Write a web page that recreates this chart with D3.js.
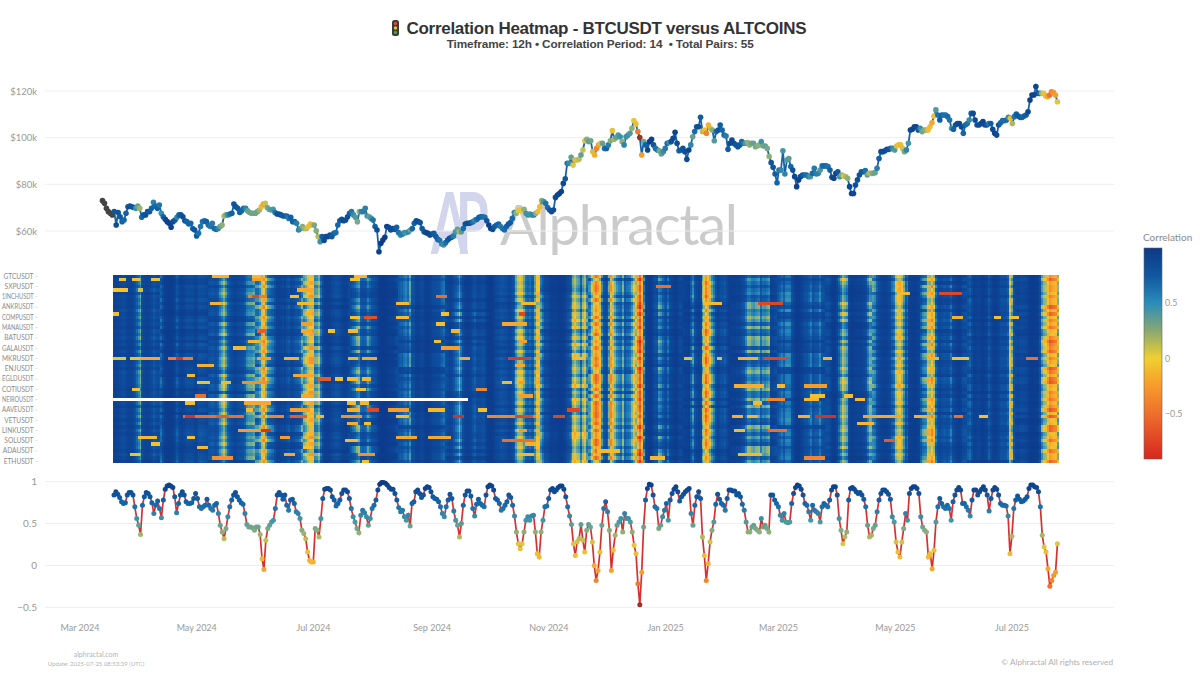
<!DOCTYPE html>
<html><head><meta charset="utf-8">
<script src="https://cdn.jsdelivr.net/npm/d3@7"></script>
<style>html,body{margin:0;background:#fff}svg{display:block}text{font-family:Lato,"Noto Sans",sans-serif}</style>
</head><body><div id="c"></div>
<script>
const titleText = "Correlation Heatmap - BTCUSDT versus ALTCOINS";
const subtitleText = "Timeframe: 12h • Correlation Period: 14  • Total Pairs: 55";
const pairLabels = ["GTCUSDT","SXPUSDT","1INCHUSDT","ANKRUSDT","COMPUSDT","MANAUSDT","BATUSDT","GALAUSDT","MKRUSDT","ENJUSDT","EGLDUSDT","COTIUSDT","NEIROUSDT","AAVEUSDT","VETUSDT","LINKUSDT","SOLUSDT","ADAUSDT","ETHUSDT"];
const pairCount = 55;
const monthTicks = ["2024-03-01","2024-05-01","2024-07-01","2024-09-01","2024-11-01","2025-01-01","2025-03-01","2025-05-01","2025-07-01"];
const priceTicks = [60,80,100,120];
const corrTicks = [1,0.5,0,-0.5];
const barTicks = [0.5,0,-0.5];
const priceStart = "2024-03-12T18:00Z", corrStart = "2024-03-18T18:00Z", seriesEnd = "2025-07-24T18:00Z";
// BTC price in $k
const btcPrice = [73,71.9,69.7,68.3,67.6,66.9,68.3,62.6,67.9,66.1,64,64.7,67.6,70.4,70.7,70.4,70.1,69.7,70.7,69.7,65.9,66.9,66.9,68.3,68.3,69.7,72.3,70.7,69.7,71.1,67.6,66.1,65,64,63.3,61.6,64,64.7,65.9,66.9,66.9,66.1,64.4,64,63,63.3,61.1,60.4,57.9,59,61.9,64,64.4,64,62.6,61.9,63.3,61.1,60.7,61.1,61.9,62.6,66.4,66.9,66.9,67.3,67.6,71.6,70.4,69.7,67.9,68.7,69.7,69.7,68.7,67.9,67.6,67.6,67.6,68.3,69,70.4,71.6,71.9,70.1,69.3,69,69.3,67.9,67.3,67.3,66.9,66.4,66.4,66.4,65.4,65.9,64,64,63.3,60.4,61.1,61.9,61.1,61.1,61.9,63,62.6,62.6,60.1,57.6,55.4,57.6,55.9,57.6,57.6,58.3,57.6,59,59.3,62.6,64.4,65,64.4,64.7,66.1,67.6,68.3,66.9,65.9,64,68.3,68.3,68.3,69.7,66.4,66.1,65.4,64.7,61.9,60.4,51.1,54.7,56.1,57.3,61.9,61.6,60.4,61.1,60.7,61.6,59.3,58.3,58.7,59.3,59.3,59.7,60.4,61.1,63.3,64.4,64,
63.6,61.1,59.7,59.3,59,58.3,58.7,59,57.6,56.4,55.9,54.4,54,55,56.1,56.9,57.3,57.9,59.7,60.7,59.7,59.7,61.1,63,63.3,63.3,63.6,64,64.7,65,65.9,66.1,66.1,65.9,64.4,62.6,61.1,60.7,61.9,62.6,63,61.9,61.1,60.4,61.9,63,63.6,65.4,67.9,67.6,68.7,69,69,69.3,67.6,66.9,67.3,66.9,66.9,67.6,68.3,70.4,73,72.6,71.9,70.1,69,68.3,69,74.4,75.4,76.1,76.9,80.4,82.4,89,89,91.6,88.3,90.4,90.4,90.7,92.6,94.7,98.7,99.3,98.3,98.7,94,92.6,95.4,96.9,97.6,97.6,95.4,95.4,96.9,98.7,103,99.3,100.1,101.1,100.4,98.3,96.9,100.4,101.1,101.9,104,107.3,105.9,102.6,100.1,92.6,98.3,96.9,94.7,98.3,99.3,96.9,95.4,94.7,94.4,93,94,95.4,97.6,97.9,98.3,99.7,102.3,97.6,94.4,94.7,95.4,94,90.7,94.7,96.9,100.4,102.6,104.7,104.7,108.7,102.6,103.3,101.9,105.4,104,103.3,98.7,102.6,103.3,105.4,103.3,101.1,100.7,95,97.6,99,97.6,96.9,96.1,96.9,98.3,97.6,97.6,97.9,96.9,97.6,97.6,96.1,96.4,
96.9,98.3,96.4,96.4,95.4,91.9,89.3,87.3,84.4,80.7,86.1,86.1,94.4,84.4,90.4,91.1,87.6,86.1,83.3,79,81.9,83.3,84,84,84,83.3,83.3,84.7,86.9,84.4,84.7,86.1,87.9,87.9,87.9,87.6,86.1,83,82.6,84.7,85.4,83.3,84,83.6,83.3,82.6,79,76.1,76.1,79.7,81.9,84,85.4,85.4,85.9,84,84.7,84.7,84.7,85,86.9,91.1,94,94,94.4,95,95,95.4,95.4,94.7,96.4,96.9,96.9,95.4,94,94.7,97.6,103.3,103.6,104.7,104.7,103.3,104,102.6,103.3,103.3,103.3,104.7,106.4,109.3,111.9,109.7,107.6,109.7,109.7,109.7,109,107.6,104,103.6,105.4,106.1,106.1,104.7,101.9,105.4,106.1,107.6,110.4,110.4,107.6,105.4,105.4,106.1,106.9,105.4,105.4,106.1,106.1,103.6,101.9,101.1,105.4,106.4,107.3,107.3,107.6,108.7,108.3,106.1,109,110.1,109.3,108.7,108.7,109.3,109.7,111.1,116.1,118.3,118.3,121.9,119,119,119,119,117.9,117.6,118.3,119.7,119.3,118.3,115.4];
// mean correlation
const meanCorr = [.84,.88,.85,.81,.76,.74,.75,.84,.87,.87,.84,.70,.56,.48,.37,.72,.82,.87,.86,.82,.75,.62,.72,.77,.68,.57,.78,.91,.95,.96,.95,.93,.82,.63,.74,.84,.88,.84,.76,.74,.74,.75,.80,.86,.80,.70,.68,.70,.72,.79,
.72,.68,.66,.72,.74,.62,.48,.40,.32,.44,.58,.70,.78,.84,.87,.82,.78,.75,.73,.62,.49,.46,.46,.45,.42,.46,.46,.37,.08,-.05,.30,.44,.48,.52,.54,.68,.84,.87,.84,.79,.84,.72,.66,.78,.79,.74,.64,.62,.56,.42,.38,.32,.16,.06,.04,.04,.44,.42,.34,.56,.80,.91,.92,.92,.90,.82,.78,.71,.74,.78,.86,.90,.90,.88,.80,.68,.58,.52,.44,.39,.60,.66,.63,.58,.48,.56,.68,.72,.78,.90,.97,.99,.99,.98,.96,.93,.91,.91,.86,.78,.69,.64,.66,.58,.54,.60,.47,.74,.76,.88,.90,.86,.81,.84,.92,
.94,.93,.88,.82,.80,.79,.76,.70,.62,.58,.70,.78,.85,.80,.65,.54,.48,.34,.50,.72,.84,.89,.89,.83,.68,.59,.73,.79,.74,.72,.70,.84,.94,.96,.95,.90,.80,.78,.74,.66,.68,.72,.76,.84,.81,.72,.59,.40,.26,.20,.26,.40,.54,.58,.54,.59,.60,.40,.14,.10,.40,.54,.70,.71,.80,.90,.92,.88,.90,.93,.95,.95,.91,.82,.70,.59,.49,.26,.12,.28,.32,.49,.30,.16,.42,.49,.46,.28,0,-.18,-.06,.16,.48,.68,.76,.64,.42,-.06,.18,.36,.48,.52,.56,.40,.62,.56,.56,.52,.40,.24,.14,-.22,-.47,-.08,.46,.78,.92,.97,.96,.84,.70,.68,.44,.48,.58,.66,.74,.54,.78,.86,.91,.94,.88,.77,.82,.85,.88,.90,.92,.62,.48,.72,.82,.88,.80,.34,.12,-.18,.02,.28,.42,.52,.73,.85,.79,.74,.72,.66,.80,.90,.90,.89,.89,.84,.86,.82,.73,.66,.52,.40,.40,.46,.48,.44,.42,.40,.56,
.46,.48,.44,.40,.84,.84,.78,.74,.70,.60,.54,.62,.52,.51,.52,.74,.86,.93,.96,.95,.91,.84,.74,.72,.64,.54,.72,.66,.64,.62,.52,.70,.74,.72,.70,.78,.90,.94,.94,.84,.56,.42,.26,.34,.40,.78,.92,.93,.91,.88,.86,.87,.84,.79,.70,.48,.34,.36,.44,.48,.64,.78,.86,.90,.90,.88,.85,.79,.58,.52,.28,.16,.10,.28,.44,.62,.54,.86,.92,.94,.94,.92,.86,.58,.46,.42,.40,.10,.14,-.04,.18,.52,.70,.80,.74,.70,.68,.72,.68,.54,.76,.84,.90,.93,.90,.74,.74,.70,.66,.59,.78,.90,.90,.84,.88,.91,.94,.90,.84,.65,.80,.90,.93,.91,.84,.74,.72,.72,.71,.59,.14,.35,.68,.78,.83,.79,.76,.77,.79,.82,.92,.96,.96,.94,.93,.88,.70,.36,.22,.16,-.04,-.25,-.18,-.12,-.08,.26];
// how far each pair sits from the mean, one digit per 25 days (5 = at the mean, low = weaker)
const pairBias = [
"62574615372658463725","36625147368254716362","47362518463726541846","63725416372548362175","25463716482536471635","74263815264735186247","36471825637418263574","52637418362547163826",
"46173625847362514736","63518274635182746351","27463518274635172846","58362741536284715362","34725168342751863427","61847352618473526184","45263718452637184526","72635148726351487263",
"38471625384716253847","56182734561827345618","23746158237461582374","67415283674152836741","41638257416382574163","75241863752418637524","38526174385261743852","62473815624738156247",
"13241523142315241324","57361824573618245736","36284715362847153628","64517382645173826451","25736184257361842573","48162537481625374816","32415263241526324152","31526143152614315261",
"43152634315263431526","68274153682741536827","35841627358416273584","47152638471526384715","52637184526371845263","34162735341627353416","76248153762481537624","33425163342516334251",
"58173624581736245817","22314132231413223141","65382714653827146538","36174825361748253617","74526183745261837452","32516243251624325162","61483725614837256148","33241635324163532416",
"32415362341536234153","45172836451728364517","37584162375841623758","66238147662381476623","24351623435162343516","53164728531647285316","71826354718263547182"];
const biasDays = 25;
// pair/day runs that stand out: [pair, first day, last day, correlation]
const hotRuns = [[0,52,60,.02],[0,73,77,.05],[1,3,6,.15],[1,10,13,.15],[1,20,24,.15],[1,73,77,-.1],[0,127,133,.05],[1,125,129,.1],[4,0,7,.12],[4,13,15,.2],[4,97,105,-.05],[6,71,80,-.25],[6,73,76,-.5],[6,93,97,.1],[6,170,175,-.3],[8,51,56,.02],[8,97,105,.05],[8,149,155,.05],[8,215,222,.05],[11,0,2,.1],[11,101,104,0],[11,214,216,-.5],[11,173,176,.1],[12,132,138,-.45],[12,149,155,.05],[12,125,129,.1],[14,170,174,.1],[14,205,217,-.05],[14,99,104,-.1],[16,113,116,.1],[16,124,128,.05],[16,178,182,.05],[16,76,79,-.4],[16,99,104,-.05],[19,71,76,.05],[19,214,217,-.1],[19,169,172,.1],[21,63,69,.05],[21,173,182,-.1],[24,0,6,.15],[24,9,13,.1],[24,14,24,-.05],[24,29,41,-.25],[24,33,36,-.6],[24,90,97,0],[24,124,128,0],[24,131,138,-.05],[24,76,82,-.1],[24,182,187,-.05],[24,208,218,-.55],[24,242,247,.05],[26,44,52,0],[26,212,216,-.05],[29,39,42,.05],[29,95,104,-.05],[30,108,114,-.4],[30,117,120,.1],[30,123,128,.05],[30,131,135,.02],[31,44,50,.1],[31,57,61,.05],[31,68,80,-.15],[31,205,209,.05],[31,214,216,-.1],[33,10,13,.1],[33,128,132,.1],[33,191,196,-.2],[35,43,48,-.3],[35,99,102,-.05],[35,214,220,-.1],[37,38,42,.1],[37,69,82,-.05],[37,123,127,.05],[37,130,134,.05],[39,70,73,.05],[39,93,103,-.1],[39,123,129,0],[39,134,139,-.5],[39,145,155,-.1],[39,166,174,.05],[39,192,196,.1],[39,239,245,-.5],[41,37,68,-.3],[41,38,42,-.6],[41,54,60,-.4],[41,82,89,-.2],[41,93,101,-.4],[41,107,110,.05],[41,120,130,-.15],[41,149,155,.05],[41,179,184,-.6],[41,197,222,-.2],[41,212,220,-.5],[41,232,237,-.5],[43,123,128,0],[43,132,135,.1],[45,66,81,-.1],[45,78,82,-.6],[45,214,217,-.1],[47,13,22,.05],[47,39,42,.1],[47,88,92,-.1],[47,149,159,-.05],[47,166,177,-.05],[48,205,221,-.3],[48,122,128,.05],[49,20,24,.1],[49,217,222,0],[50,44,49,.05],[50,100,104,.1],[52,9,13,.15],[52,90,95,-.05],[52,129,137,-.15],[52,213,221,.05],[53,52,62,-.15],[54,131,134,.1],
[3,286,293,-.3],[5,435,446,-.5],[5,413,419,.05],[8,340,352,-.5],[8,311,320,.05],[24,301,304,.05],[24,318,320,.05],[24,329,339,0],[24,343,354,-.5],[24,374,378,0],[24,429,434,0],[24,442,450,.1],[24,481,486,-.3],[12,442,447,0],[12,472,476,.1],[12,464,467,.1],[32,327,342,0],[32,364,375,-.1],[32,350,353,.05],[35,367,374,.1],[35,385,389,.1],[36,345,353,-.2],[36,364,371,.05],[36,391,395,.05],[37,337,341,.05],[41,326,331,0],[41,334,339,.05],[41,361,366,0],[41,370,380,-.6],[41,395,414,-.05],[41,422,428,0],[41,443,447,-.3],[41,456,460,.1],[43,392,400,.05],[45,345,354,-.3],[45,327,332,.05],[48,406,411,-.4],[51,255,266,.05],[52,329,341,.05],[53,364,374,-.2],[53,283,290,.05]];
const neiroRow = 36, neiroMissingDays = 187;
const barStops = [-0.91,-0.5,-0.25,0,0.25,0.5,0.75,1];
const barColors = ["#d7261f","#ee6f2c","#f79a2b","#f0d030","#8aa870","#2a8dbb","#10579f","#0d3a85"];
const markStops = [-0.5,-0.25,-0.1,0.05,0.25,0.4,0.55,0.75,1];
const markColors = ["#8e2a22","#f2702a","#f59a30","#f5b530","#e3c83c","#8db07a","#3f93a8","#1164a8","#0d3a85"];
const heatStops = [-0.7,-0.4,-0.15,0.05,0.3,0.5,0.72,1];
const heatColors = ["#d5301f","#ec6a2a","#f7a52c","#f6c52c","#7fb28a","#2388bc","#0f56a5","#0c3a8c"];

const W=1200,H=675;
const svg=d3.select("#c").append("svg").attr("width",W).attr("height",H);
const barColor=d3.scaleLinear().domain(barStops).range(barColors).clamp(true);
const markColor=d3.scaleLinear().domain(markStops).range(markColors).clamp(true);
const heatColor=d3.scaleLinear().domain(heatStops).range(heatColors).clamp(true);
const parse=d3.utcParse("%Y-%m-%d");
const x=d3.scaleUtc().domain([parse(monthTicks[0]),parse(monthTicks[8])]).range([80,1012]);
const yP=d3.scaleLinear().domain([60,120]).range([231,91]);
const yC=d3.scaleLinear().domain([1,-0.5]).range([481.7,607.3]);
const yH=d3.scaleBand().domain(d3.range(pairCount)).range([274.5,463]);
const gridL=45,gridR=1114,gridC="#eeeeee",tickC="#999999";
const series=(arr,a,b)=>{const t0=+new Date(a),t1=+new Date(b);return arr.map((v,i)=>({d:new Date(t0+(t1-t0)*i/(arr.length-1)),v}));};
const corr=series(meanCorr,corrStart,seriesEnd), price=series(btcPrice,priceStart,seriesEnd);
const bis=d3.bisector(d=>d.d).center;
const corrAt=d=>d<corr[0].d?null:corr[bis(corr,d)].v;

// watermark
const wm=svg.append("g").style("font-family","Liberation Sans");
wm.append("text").attr("transform","translate(431,254) scale(.62,1)").attr("font-size",86).attr("font-weight",700).attr("fill","#d2d5ec").attr("letter-spacing",-20).text("AP");
wm.append("text").attr("x",500).attr("y",245).attr("font-size",56).attr("fill","#cbcbcb").attr("textLength",238).text("Alphractal");

// title
const traffic=svg.append("g");
traffic.append("rect").attr("x",392).attr("y",20).attr("width",7).attr("height",16).attr("rx",2.5).attr("fill","#3a3a3a");
["#e0492f","#e9c12f","#4ea24c"].forEach((c,i)=>traffic.append("circle").attr("cx",395.5).attr("cy",23.5+i*4.5).attr("r",1.7).attr("fill",c));
svg.append("text").attr("x",406.5).attr("y",34).attr("font-size",17).attr("font-weight",700).attr("fill","#333").style("font-family","Liberation Sans").attr("textLength",400).text(titleText);
svg.append("text").attr("x",446.7).attr("y",48).attr("font-size",11.8).attr("font-weight",700).attr("fill","#444").style("font-family","Liberation Sans").attr("textLength",307).style("white-space","pre").text(subtitleText);

// price axis
const gP=svg.append("g").call(d3.axisLeft(yP).tickValues(priceTicks).tickSize(0).tickFormat(d=>"$"+d+"k")).attr("transform","translate(43,0)");
gP.select(".domain").remove();gP.selectAll("text").attr("fill",tickC).attr("font-size",9.5).attr("dx",-3).style("font-family","Lato");
svg.append("g").selectAll("line").data(priceTicks).join("line").attr("x1",gridL).attr("x2",gridR).attr("y1",yP).attr("y2",yP).attr("stroke",gridC);
// price line + markers
svg.append("path").datum(price).attr("fill","none").attr("stroke","#1464aa").attr("stroke-width",1.8).attr("d",d3.line().x(d=>x(d.d)).y(d=>yP(d.v)));
svg.append("g").selectAll("circle").data(price).join("circle").attr("cx",d=>x(d.d)).attr("cy",d=>yP(d.v)).attr("r",2.8).attr("fill",d=>{const c=corrAt(d.d);return c===null?"#444444":markColor(c);});

// heatmap
const cells=[];
const lookup=new Map();
hotRuns.forEach(([r,a,b,v])=>{for(let c=a;c<=b;c++)lookup.set(r+"_"+c,v-.08);});
const dayW=x(corr[1].d)-x(corr[0].d);
for(let r=0;r<pairCount;r++)for(let c=0;c<corr.length;c++){
  if(r===neiroRow&&c<neiroMissingDays)continue;
  const k=r+"_"+c, m=corr[c].v;
  const base=m+.4*(1-m)*Math.max(0,Math.min(1,(m-.3)/.3));      // most pairs sit above the mean
  const dev=(+pairBias[r][Math.floor(c/biasDays)]-5)/7;
  cells.push({r,c,v:lookup.has(k)?lookup.get(k):base+dev*Math.min(1-base,.45)});
}
svg.append("g").attr("shape-rendering","crispEdges").selectAll("rect").data(cells).join("rect")
 .attr("x",d=>x(corr[d.c].d)-dayW/2).attr("y",d=>yH(d.r)).attr("width",dayW+.6).attr("height",yH.bandwidth()+.3).attr("fill",d=>heatColor(d.v));
const rowsL=pairLabels.map((n,i)=>({n,r:i*3}));
const gH=svg.append("g");
gH.selectAll("text").data(rowsL).join("text").attr("x",33.5).attr("y",d=>yH(d.r)+yH.bandwidth()/2+2.4).attr("text-anchor","end").attr("font-size",6.6).attr("fill","#8a8a8a").text(d=>d.n)
 .each(function(){ if(this.getComputedTextLength()>31.5) d3.select(this).attr("textLength",31.5).attr("lengthAdjust","spacingAndGlyphs"); });
gH.selectAll("line").data(rowsL).join("line").attr("x1",35).attr("x2",38).attr("y1",d=>yH(d.r)+yH.bandwidth()/2).attr("y2",d=>yH(d.r)+yH.bandwidth()/2).attr("stroke","#e8e8e8");

// correlation panel
svg.append("g").selectAll("line").data(corrTicks).join("line").attr("x1",gridL).attr("x2",gridR).attr("y1",yC).attr("y2",yC).attr("stroke",gridC);
const gC=svg.append("g").attr("transform","translate(43,0)").call(d3.axisLeft(yC).tickValues(corrTicks).tickSize(0).tickFormat(d=>d===0.5?"0.5":d===-0.5?"−0.5":d));
gC.select(".domain").remove();gC.selectAll("text").attr("fill",tickC).attr("font-size",10).attr("dx",-3).style("font-family","Lato");
svg.append("path").datum(corr).attr("fill","none").attr("stroke","#d7302f").attr("stroke-width",1.7).attr("d",d3.line().x(d=>x(d.d)).y(d=>yC(d.v)));
svg.append("g").selectAll("circle").data(corr).join("circle").attr("cx",d=>x(d.d)).attr("cy",d=>yC(d.v)).attr("r",2.5).attr("fill",d=>markColor(d.v));

// x axis
svg.append("g").selectAll("text").data(monthTicks).join("text").attr("x",d=>x(parse(d))).attr("y",631).attr("text-anchor","middle").attr("font-size",9).attr("fill",tickC).text(d=>d3.utcFormat("%b %Y")(parse(d)));

// colour bar
const yB=d3.scaleLinear().domain([1,-0.91]).range([248,459]);
const defs=svg.append("defs").append("linearGradient").attr("id","cb").attr("x1",0).attr("x2",0).attr("y1",0).attr("y2",1);
barStops.slice().reverse().forEach(s=>defs.append("stop").attr("offset",(yB(s)-248)/211).attr("stop-color",barColor(s)));
svg.append("rect").attr("x",1144).attr("y",248).attr("width",18).attr("height",211).attr("fill","url(#cb)").attr("stroke","#666").attr("stroke-width",.6);
svg.append("g").selectAll("text").data(barTicks).join("text").attr("x",1165).attr("y",d=>yB(d)+3.2).attr("font-size",8.8).attr("fill",tickC).text(d=>d<0?"−"+(-d):d);
svg.append("text").attr("x",1143).attr("y",241).attr("font-size",10).attr("fill","#8a8a8a").text("Correlation");

// footer
svg.append("text").attr("x",96).attr("y",657).attr("text-anchor","middle").attr("font-size",7).attr("fill","#b5b5b5").text("alphractal.com");
svg.append("text").attr("x",96).attr("y",666).attr("text-anchor","middle").attr("font-size",6).attr("fill","#b5b5b5").text("Update: 2025-07-25 08:53:39 (UTC)");
svg.append("text").attr("x",1113).attr("y",665).attr("text-anchor","end").attr("font-size",8.2).attr("fill","#b0b0b0").text("© Alphractal All rights reserved");
</script></body></html>
